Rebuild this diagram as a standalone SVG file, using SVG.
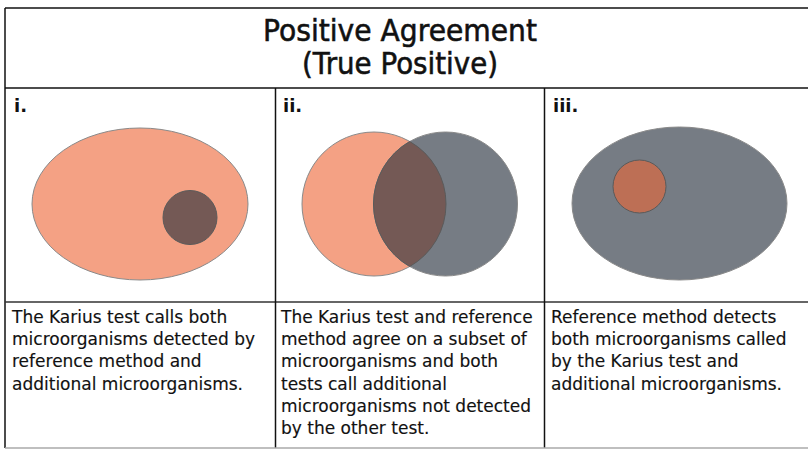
<svg xmlns="http://www.w3.org/2000/svg" width="808" height="449" viewBox="0 0 808 449">
<style>
.frame{stroke:#111;stroke-width:1.5;fill:none}
.title{font-family:"DejaVu Sans",sans-serif;font-size:31px;fill:#111;stroke:#111;stroke-width:0.6;text-anchor:middle}
.lbl{font-family:"DejaVu Sans",sans-serif;font-size:18px;font-weight:bold;fill:#111}
.body{font-family:"DejaVu Sans",sans-serif;font-size:17px;fill:#111;stroke:#111;stroke-width:0.15}
.salmon{fill:#F4A184;stroke:#8a8a8a;stroke-width:1}
.grey{fill:#767C84;stroke:#8a8a8a;stroke-width:1}
.dark{fill:#745955;stroke:#5a5a5a;stroke-width:1}
.rust{fill:#BD6F55;stroke:#5a5a5a;stroke-width:1}
</style>
<rect width="808" height="449" fill="#fff"/>
<g id="table">
<line class="frame" x1="5" y1="8" x2="808" y2="8"/>
<line class="frame" x1="5" y1="8" x2="5" y2="448"/>
<line class="frame" x1="5" y1="88" x2="808" y2="88"/>
<line class="frame" x1="5" y1="302" x2="808" y2="302" style="stroke:#333"/>
<line class="frame" x1="275.5" y1="88" x2="275.5" y2="448"/>
<line class="frame" x1="544.5" y1="88" x2="544.5" y2="448"/>
<line x1="5" y1="448" x2="808" y2="448" stroke="#aaa" stroke-width="1.5"/>
</g>
<g id="title">
<text class="title" x="400" y="41" textLength="274" lengthAdjust="spacingAndGlyphs">Positive Agreement</text>
<text class="title" x="400" y="74" textLength="196" lengthAdjust="spacingAndGlyphs">(True Positive)</text>
</g>
<g id="panel-i">
<text class="lbl" x="14" y="112">i.</text>
<ellipse class="salmon" cx="140" cy="204" rx="108" ry="76"/>
<circle class="dark" cx="190" cy="217.5" r="27"/>
</g>
<g id="panel-ii">
<text class="lbl" x="283" y="112">ii.</text>
<circle class="salmon" cx="374" cy="204" r="72"/>
<circle class="grey" cx="445.5" cy="204" r="72"/>
<path class="dark" d="M409.75 141.5 A72 72 0 0 1 409.75 266.5 A72 72 0 0 1 409.75 141.5 Z"/>
</g>
<g id="panel-iii">
<text class="lbl" x="553" y="112">iii.</text>
<ellipse class="grey" cx="679.5" cy="203.5" rx="107.5" ry="76.5"/>
<circle class="rust" cx="639.5" cy="186.5" r="26.5"/>
</g>
<g id="text-i">
<text class="body" x="12" y="323">The Karius test calls both</text>
<text class="body" x="12" y="345">microorganisms detected by</text>
<text class="body" x="12" y="367">reference method and</text>
<text class="body" x="12" y="390">additional microorganisms.</text>
</g>
<g id="text-ii">
<text class="body" x="281" y="323">The Karius test and reference</text>
<text class="body" x="281" y="345">method agree on a subset of</text>
<text class="body" x="281" y="367">microorganisms and both</text>
<text class="body" x="281" y="390">tests call additional</text>
<text class="body" x="281" y="412">microorganisms not detected</text>
<text class="body" x="281" y="434">by the other test.</text>
</g>
<g id="text-iii">
<text class="body" x="551" y="323">Reference method detects</text>
<text class="body" x="551" y="345">both microorganisms called</text>
<text class="body" x="551" y="367">by the Karius test and</text>
<text class="body" x="551" y="390">additional microorganisms.</text>
</g>
</svg>
